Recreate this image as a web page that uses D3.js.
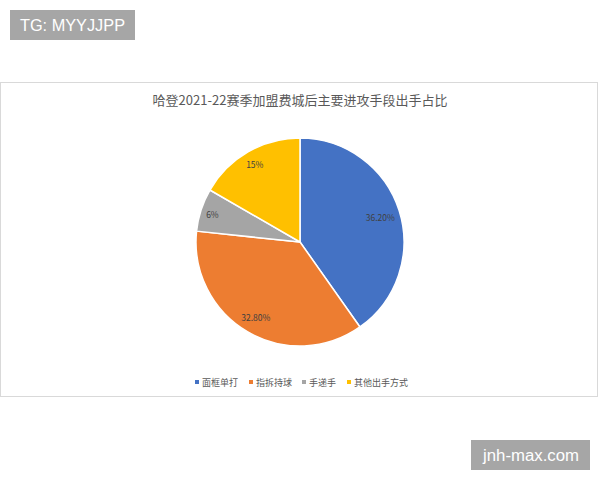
<!DOCTYPE html>
<html><head><meta charset="utf-8">
<script src="https://cdn.jsdelivr.net/npm/d3@7"></script>
<style>body{margin:0;background:#fff;} svg{display:block;font-family:"Noto Sans CJK SC","Noto Sans",sans-serif;}</style>
</head><body>
<svg id="c" width="600" height="480"></svg>
<script>
const categories = ["面框单打", "指拆持球", "手递手", "其他出手方式"];
const values = [36.2, 32.8, 6, 15];
const labels = ["36.20%", "32.80%", "6%", "15%"];
const colors = ["#4472C4", "#ED7D31", "#A5A5A5", "#FFC000"];
const title = "哈登2021-22赛季加盟费城后主要进攻手段出手占比";

const svg = d3.select("#c");
svg.append("rect").attr("width",600).attr("height",480).attr("fill","#fff");

// chart frame
svg.append("rect").attr("x",0.5).attr("y",82.5).attr("width",597).attr("height",314)
  .attr("fill","#fff").attr("stroke","#d9d9d9").attr("stroke-width",1);

svg.append("text").attr("x",300).attr("y",105).attr("text-anchor","middle")
  .attr("font-size",13).attr("fill","#595959").text(title);

const cx = 300, cy = 242, R = 104;
const pie = d3.pie().value(d=>d).sort(null);
const arcs = pie(values);
const arc = d3.arc().innerRadius(0).outerRadius(R);
const g = svg.append("g").attr("transform",`translate(${cx},${cy})`);
g.selectAll("path").data(arcs).join("path")
  .attr("d",arc).attr("fill",(d,i)=>colors[i])
  .attr("stroke","#fff").attr("stroke-width",1.5).attr("stroke-linejoin","round");

g.selectAll("text.lbl").data(arcs).join("text").attr("class","lbl")
  .attr("font-size",8.5).attr("fill","#404040").attr("text-anchor","middle")
  .attr("dominant-baseline","central").text((d,i)=>labels[i])
  .each(function(d){
    const bb = this.getBBox();
    const a = (d.startAngle + d.endAngle)/2;
    const s = Math.sin(a), c = Math.cos(a);
    const r = (R - 4) - (bb.width/2*Math.abs(s) + bb.height/2*Math.abs(c));
    d3.select(this).attr("x", r*s).attr("y", -r*c);
  });

// legend
const legPos = [197, 251, 304, 349];
const lg = svg.append("g");
categories.forEach((cat,i)=>{
  lg.append("rect").attr("x",legPos[i]-2).attr("y",380).attr("width",4).attr("height",4).attr("fill",colors[i]);
  lg.append("text").attr("x",legPos[i]+5).attr("y",382).attr("dominant-baseline","central")
    .attr("font-size",9).attr("fill","#595959").text(cat);
});

// watermark boxes
svg.append("rect").attr("x",10).attr("y",10).attr("width",125).attr("height",30).attr("fill","#a6a6a6");
svg.append("text").attr("x",20).attr("y",25).attr("dominant-baseline","central")
  .attr("font-family","Liberation Sans, Arial, sans-serif").attr("font-size",16)
  .attr("textLength",105).attr("lengthAdjust","spacingAndGlyphs").attr("fill","#fff").text("TG: MYYJJPP");
svg.append("rect").attr("x",471).attr("y",440).attr("width",119).attr("height",30).attr("fill","#a6a6a6");
svg.append("text").attr("x",483).attr("y",455).attr("dominant-baseline","central")
  .attr("font-family","Liberation Sans, Arial, sans-serif").attr("font-size",16)
  .attr("textLength",96).attr("lengthAdjust","spacingAndGlyphs").attr("fill","#fff").text("jnh-max.com");
</script>
</body></html>
